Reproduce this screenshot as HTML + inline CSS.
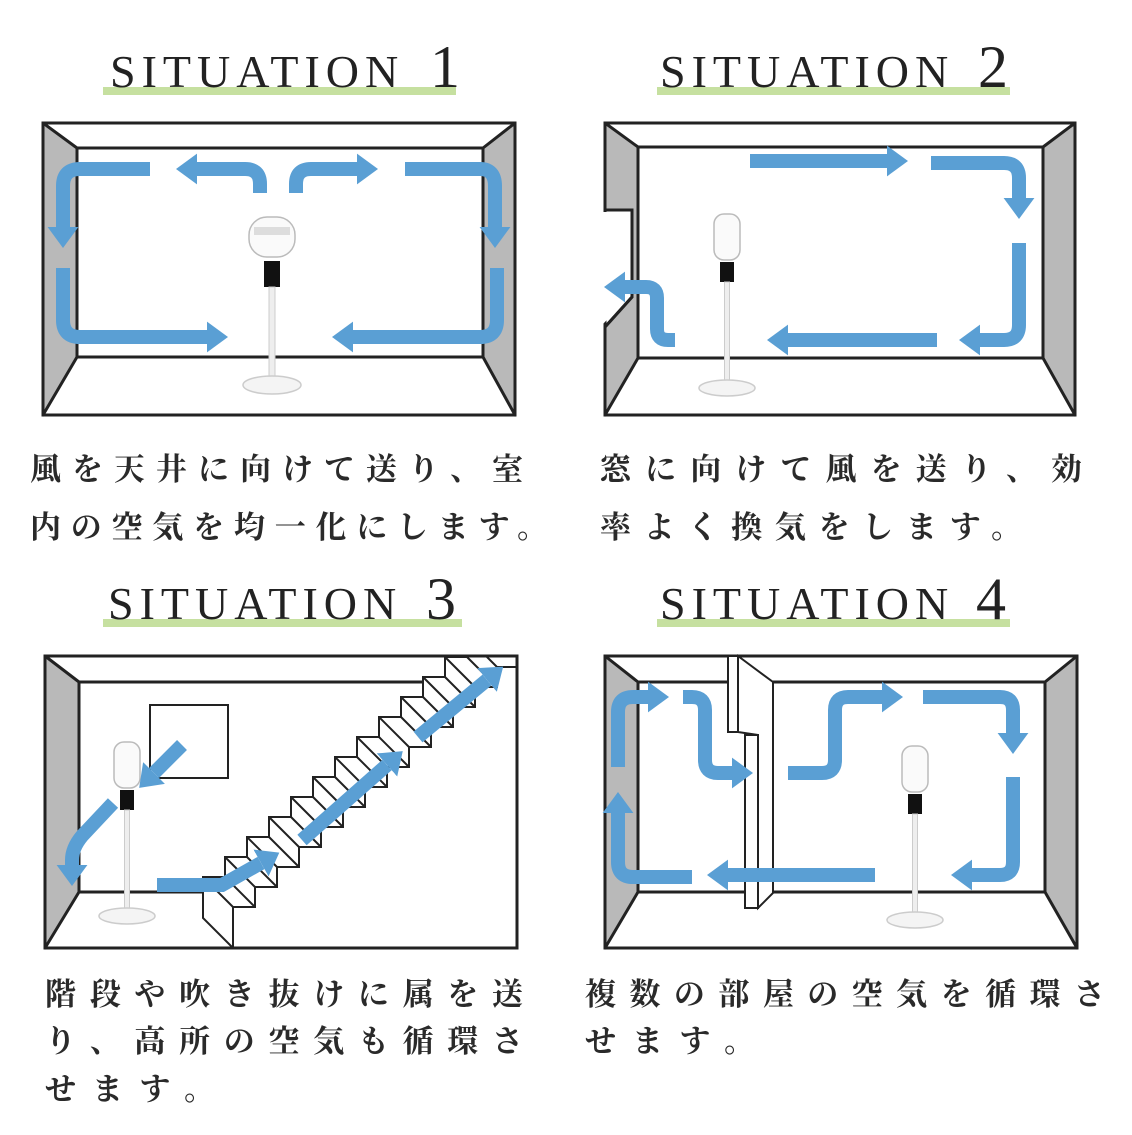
<!DOCTYPE html>
<html><head><meta charset="utf-8"><style>
html,body{margin:0;padding:0;background:#fff;width:1132px;height:1135px;overflow:hidden}
svg{display:block}
.t{font-family:"Liberation Serif",serif;fill:#222}
.j{font-family:"Liberation Serif","Noto Serif CJK JP","Noto Serif CJK SC",serif;fill:#2a2a2a;font-size:31px;font-weight:bold}
.wall{fill:#b9b9b9;stroke:#222;stroke-width:3;stroke-linejoin:round}
.ln{fill:none;stroke:#222;stroke-width:3}
.ar{fill:none;stroke:#5a9fd4;stroke-width:14;marker-end:url(#ah)}
.st{fill:none;stroke:#222;stroke-width:2}
</style></head><body>
<svg width="1132" height="1135" viewBox="0 0 1132 1135" xmlns="http://www.w3.org/2000/svg">
<defs>
<marker id="ah" viewBox="0 0 10 10" refX="0" refY="5" markerWidth="1.5" markerHeight="2.2" orient="auto" preserveAspectRatio="none"><path d="M0 0L10 5L0 10z" fill="#5a9fd4"/></marker>
<g id="fanF">
<rect x="-23" y="-28" width="46" height="40" rx="18" fill="#fafafa" stroke="#bbb" stroke-width="1.5"/>
<rect x="-18" y="-18" width="36" height="8" fill="#ddd"/>
<rect x="-8" y="16" width="16" height="26" fill="#111"/>
<rect x="-3" y="42" width="6" height="96" fill="#eee" stroke="#ccc" stroke-width="1"/>
<ellipse cx="0" cy="140" rx="29" ry="9" fill="#f4f4f4" stroke="#ccc" stroke-width="1.5"/>
</g>
<g id="fanS">
<rect x="-13" y="-26" width="26" height="46" rx="10" fill="#fafafa" stroke="#bbb" stroke-width="1.5"/>
<rect x="-7" y="22" width="14" height="20" fill="#111"/>
<rect x="-2.5" y="42" width="5" height="104" fill="#eee" stroke="#ccc" stroke-width="1"/>
<ellipse cx="0" cy="148" rx="28" ry="8" fill="#f4f4f4" stroke="#ccc" stroke-width="1.5"/>
</g>
<clipPath id="c3"><rect x="45" y="656" width="472" height="292"/></clipPath>
</defs>

<rect x="103" y="87" width="353" height="8" fill="#c6e0a0"/>
<text class="t" x="110" y="87" font-size="46" letter-spacing="6">SITUATION</text>
<text class="t" x="430" y="87" font-size="60">1</text>
<rect x="657" y="87" width="353" height="8" fill="#c6e0a0"/>
<text class="t" x="660" y="87" font-size="46" letter-spacing="6">SITUATION</text>
<text class="t" x="978" y="87" font-size="60">2</text>
<rect x="103" y="619" width="359" height="8" fill="#c6e0a0"/>
<text class="t" x="108" y="619" font-size="46" letter-spacing="6">SITUATION</text>
<text class="t" x="426" y="619" font-size="60">3</text>
<rect x="657" y="619" width="353" height="8" fill="#c6e0a0"/>
<text class="t" x="660" y="619" font-size="46" letter-spacing="6">SITUATION</text>
<text class="t" x="976" y="619" font-size="60">4</text>

<!-- Panel 1 -->
<rect x="43" y="123" width="472" height="292" fill="#fff" stroke="#222" stroke-width="3"/>
<polygon class="wall" points="43,123 77,148 77,357 43,415"/>
<polygon class="wall" points="515,123 483,148 483,357 515,415"/>
<path class="ln" d="M77 148H483M77 357H483"/>
<use href="#fanF" x="272" y="245"/>
<path class="ar" d="M150 169H80Q63 169 63 186V227"/>
<path class="ar" d="M260 193V184Q260 169 245 169H197"/>
<path class="ar" d="M296 193V184Q296 169 311 169H357"/>
<path class="ar" d="M405 169H480Q495 169 495 186V227"/>
<path class="ar" d="M63 268V320Q63 337 80 337H207"/>
<path class="ar" d="M497 268V320Q497 337 480 337H353"/>

<!-- Panel 2 -->
<rect x="605" y="123" width="470" height="292" fill="#fff" stroke="#222" stroke-width="3"/>
<polygon class="wall" points="605,123 638,147 638,358 605,415 605,327 632,297 632,210 605,210"/>
<polygon points="602,212 630,212 630,296 602,325" fill="#fff"/>
<path class="ln" d="M605 210H632V297L605 327"/>
<polygon class="wall" points="1075,123 1043,147 1043,358 1075,415"/>
<path class="ln" d="M638 147H1043M638 358H1043"/>
<use href="#fanS" x="727" y="240"/>
<path class="ar" d="M750 161H887"/>
<path class="ar" d="M931 163H1004Q1019 163 1019 178V198"/>
<path class="ar" d="M1019 243V325Q1019 340 1004 340H980"/>
<path class="ar" d="M937 340H788"/>
<path class="ar" d="M675 340H668Q657 340 657 329V298Q657 287 646 287H625"/>

<!-- Panel 3 -->
<rect x="45" y="656" width="472" height="292" fill="#fff" stroke="#222" stroke-width="3"/>
<polygon class="wall" points="45,656 79,682 79,892 45,948"/>
<path class="ln" d="M79 682H517M79 892H223"/>
<rect x="150" y="705" width="78" height="73" fill="none" stroke="#222" stroke-width="2"/>
<g clip-path="url(#c3)">
<path d="M203 897v-20h22v-20h22v-20h22v-20h22v-20h22v-20h22v-20h22v-20h22v-20h22v-20h22v-20h22v-20h22v-20h22L540 680L540 960L233 960L203 918Z" fill="#fff"/>
<path class="st" d="M203 897v-20h22v-20h22v-20h22v-20h22v-20h22v-20h22v-20h22v-20h22v-20h22v-20h22v-20h22v-20h22v-20h22"/>
<path class="st" d="M233 948V927v-20h22v-20h22v-20h22v-20h22v-20h22v-20h22v-20h22v-20h22v-20h22v-20h22v-20h22v-20h22v-20h22"/>
<path class="st" d="M203 897V918L233 948"/>
<path class="st" d="M203 877l30 30m-8 -50l30 30m-8 -50l30 30m-8 -50l30 30m-8 -50l30 30m-8 -50l30 30m-8 -50l30 30m-8 -50l30 30m-8 -50l30 30m-8 -50l30 30m-8 -50l30 30m-8 -50l30 30m-8 -50l30 30"/>
<path class="st" d="M225 877l30 30m-8 -50l30 30m-8 -50l30 30m-8 -50l30 30m-8 -50l30 30m-8 -50l30 30m-8 -50l30 30m-8 -50l30 30m-8 -50l30 30m-8 -50l30 30m-8 -50l30 30m-8 -50l30 30"/>
</g>
<rect x="45" y="656" width="472" height="292" fill="none" stroke="#222" stroke-width="3"/>
<use href="#fanS" x="127" y="768"/>
<path class="ar" d="M182 745L154 773"/>
<path class="ar" d="M113 803L82 836Q72 848 72 860V865"/>
<path class="ar" d="M157 885H222L261 863"/>
<path class="ar" d="M302 840L387 765"/>
<path class="ar" d="M418 737L487 680"/>

<!-- Panel 4 -->
<rect x="605" y="656" width="472" height="292" fill="#fff" stroke="#222" stroke-width="3"/>
<polygon class="wall" points="605,656 638,682 638,892 605,948"/>
<polygon class="wall" points="1077,656 1045,682 1045,892 1077,948"/>
<path class="ln" d="M638 682H728M773 682H1045M638 892H1045"/>
<rect x="728" y="656" width="10" height="76" fill="#fff" stroke="#222" stroke-width="2"/>
<polygon points="738,656 773,682 773,893 758,908 758,735 738,732" fill="#fff" stroke="#222" stroke-width="2"/>
<rect x="745" y="735" width="13" height="173" fill="#fff" stroke="#222" stroke-width="2"/>
<use href="#fanS" x="915" y="772"/>
<path class="ar" d="M618 767V712Q618 697 633 697H648"/>
<path class="ar" d="M692 877H633Q618 877 618 862V813"/>
<path class="ar" d="M683 697H692Q705 697 705 710V760Q705 773 718 773H732"/>
<path class="ar" d="M875 875H728"/>
<path class="ar" d="M788 773H822Q835 773 835 760V710Q835 697 848 697H882"/>
<path class="ar" d="M923 697H1000Q1013 697 1013 710V733"/>
<path class="ar" d="M1013 777V862Q1013 875 1000 875H972"/>

<text class="j" x="30" y="480" textLength="493" lengthAdjust="spacing">風を天井に向けて送り、室</text>
<text class="j" x="30" y="538" textLength="518" lengthAdjust="spacing">内の空気を均一化にします。</text>
<text class="j" x="600" y="480" textLength="482" lengthAdjust="spacing">窓に向けて風を送り、効</text>
<text class="j" x="600" y="538" textLength="422" lengthAdjust="spacing">率よく換気をします。</text>
<text class="j" x="45" y="1005" textLength="478" lengthAdjust="spacing">階段や吹き抜けに属を送</text>
<text class="j" x="45" y="1052" textLength="478" lengthAdjust="spacing">り、高所の空気も循環さ</text>
<text class="j" x="45" y="1100" textLength="170" lengthAdjust="spacing">せます。</text>
<text class="j" x="585" y="1005" textLength="520" lengthAdjust="spacing">複数の部屋の空気を循環さ</text>
<text class="j" x="585" y="1052" textLength="170" lengthAdjust="spacing">せます。</text>
</svg>
</body></html>
